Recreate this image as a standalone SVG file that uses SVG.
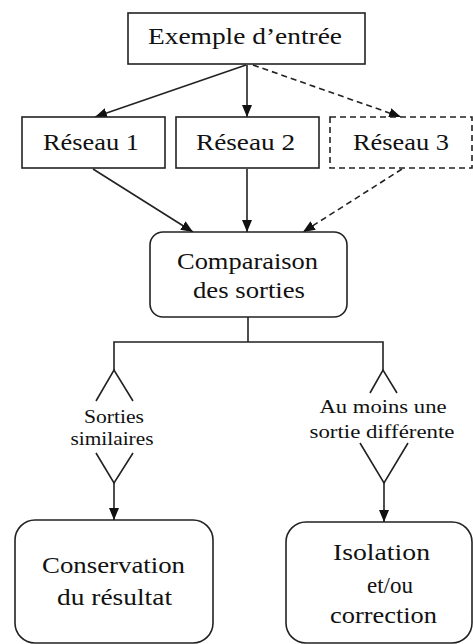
<svg xmlns="http://www.w3.org/2000/svg" width="473" height="644" viewBox="0 0 473 644">
<style>
.box{fill:#fff;stroke:#222;stroke-width:1.6}
.dash{stroke-dasharray:6 4}
text{font-family:"Liberation Serif","DejaVu Serif","Times New Roman",serif;fill:#111;text-anchor:middle}
.t{font-size:24px}
.s{font-size:18px}
.ln{fill:none;stroke:#222;stroke-width:1.6}
</style>
<defs>
<marker id="ah" markerUnits="userSpaceOnUse" markerWidth="12" markerHeight="10" refX="12" refY="5" orient="auto">
<path d="M0,0 L12,5 L0,10 Z" fill="#111"/>
</marker>
</defs>
<rect width="473" height="644" fill="#fff"/>
<g id="connectors">
<line class="ln" x1="246" y1="65" x2="95" y2="117" marker-end="url(#ah)"/>
<line class="ln" x1="247" y1="65" x2="247" y2="117" marker-end="url(#ah)"/>
<line class="ln dash" x1="253" y1="65" x2="401" y2="117" marker-end="url(#ah)"/>
<line class="ln" x1="93" y1="169" x2="193" y2="232" marker-end="url(#ah)"/>
<line class="ln" x1="247" y1="169" x2="247" y2="232" marker-end="url(#ah)"/>
<line class="ln dash" x1="402" y1="169" x2="303" y2="232" marker-end="url(#ah)"/>
<polyline class="ln" points="248,317 248,342"/>
<polyline class="ln" points="114,370 114,342 383,342 383,370"/>
<polyline class="ln" points="96,401 114,370 133,401"/>
<polyline class="ln" points="370,393 383,370 397,393"/>
<polyline class="ln" points="96,453 114,483 133,453"/>
<polyline class="ln" points="360,443 384,483 408,443"/>
<line class="ln" x1="114" y1="483" x2="114" y2="520" marker-end="url(#ah)"/>
<line class="ln" x1="384" y1="483" x2="384" y2="522" marker-end="url(#ah)"/>
<text class="s" x="114" y="423" textLength="60" lengthAdjust="spacingAndGlyphs">Sorties</text>
<text class="s" x="112" y="445" textLength="83" lengthAdjust="spacingAndGlyphs">similaires</text>
<text class="s" x="383" y="413" textLength="127" lengthAdjust="spacingAndGlyphs">Au moins une</text>
<text class="s" x="382" y="438" textLength="145" lengthAdjust="spacingAndGlyphs">sortie différente</text>
</g>
<g id="input">
<rect class="box" x="128" y="13" width="237" height="51"/>
<text class="t" x="245" y="44" textLength="194" lengthAdjust="spacingAndGlyphs">Exemple d’entrée</text>
</g>
<g id="net1">
<rect class="box" x="22" y="117" width="143" height="51"/>
<text class="t" x="91" y="150" textLength="96" lengthAdjust="spacingAndGlyphs">Réseau 1</text>
</g>
<g id="net2">
<rect class="box" x="176" y="117" width="143" height="51"/>
<text class="t" x="245.5" y="150" textLength="99" lengthAdjust="spacingAndGlyphs">Réseau 2</text>
</g>
<g id="net3">
<rect class="box dash" x="330" y="117" width="142" height="51"/>
<text class="t" x="401" y="150" textLength="96" lengthAdjust="spacingAndGlyphs">Réseau 3</text>
</g>
<g id="compare">
<rect class="box" x="150" y="232" width="197" height="85" rx="13"/>
<text class="t" x="247.5" y="269" textLength="141" lengthAdjust="spacingAndGlyphs">Comparaison</text>
<text class="t" x="249" y="298" textLength="112" lengthAdjust="spacingAndGlyphs">des sorties</text>
</g>
<g id="keep">
<rect class="box" x="15" y="520" width="198" height="123" rx="20"/>
<text class="t" x="113.5" y="573" textLength="143" lengthAdjust="spacingAndGlyphs">Conservation</text>
<text class="t" x="114.5" y="605" textLength="115" lengthAdjust="spacingAndGlyphs">du résultat</text>
</g>
<g id="fix">
<rect class="box" x="286" y="522" width="186" height="121" rx="20"/>
<text class="t" x="381.5" y="560" textLength="97" lengthAdjust="spacingAndGlyphs">Isolation</text>
<text class="t" x="390" y="593" textLength="46" lengthAdjust="spacingAndGlyphs">et/ou</text>
<text class="t" x="383.5" y="623" textLength="107" lengthAdjust="spacingAndGlyphs">correction</text>
</g>
</svg>
